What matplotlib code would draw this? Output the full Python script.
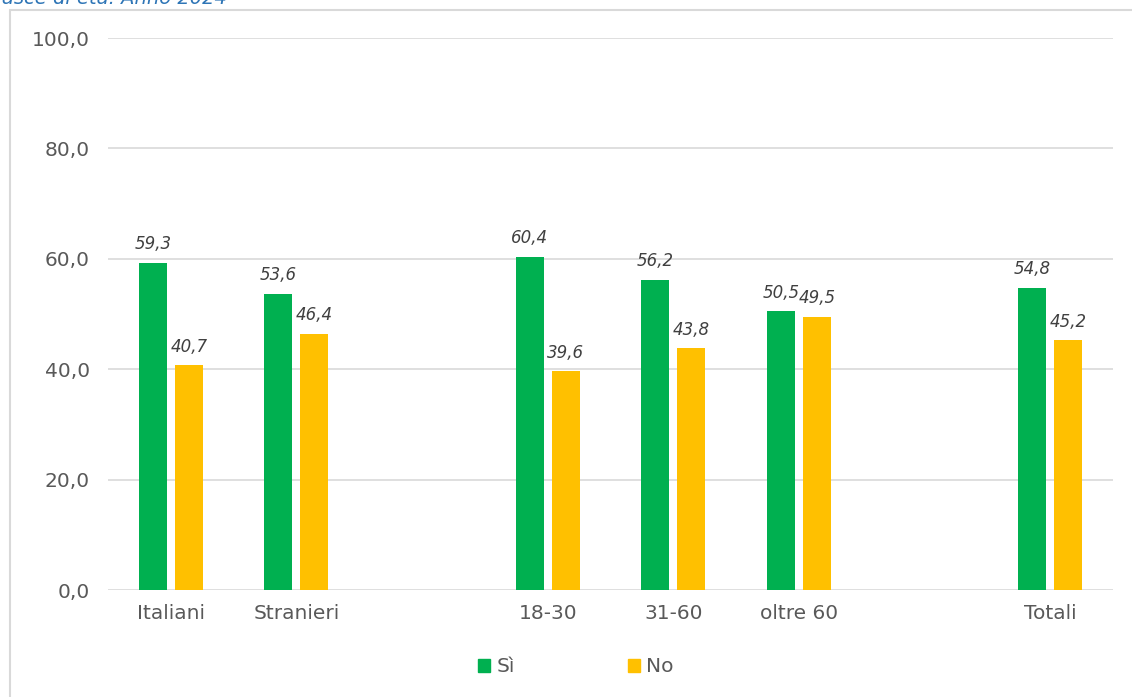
import matplotlib.pyplot as plt
import numpy as np
from matplotlib.patches import Rectangle

plt.rcParams["font.family"] = ["DejaVu Sans"]

categories = ["Italiani", "Stranieri", "", "18-30", "31-60", "oltre 60", "", "Totali"]
si_values = [59.3, 53.6, None, 60.4, 56.2, 50.5, None, 54.8]
no_values = [40.7, 46.4, None, 39.6, 43.8, 49.5, None, 45.2]
yticks = [0, 20, 40, 60, 80, 100]

GREEN = "#00B050"
YELLOW = "#FFC000"
TEXT = "#595959"


def fmt(v, dec=1):
    return f"{v:.{dec}f}".replace(".", ",")


fig = plt.figure(figsize=(11.32, 6.97), dpi=100)
fig.patch.set_facecolor("white")

# chart frame
fig.patches.append(Rectangle((10 / 1132, -0.01), 1.2, 1 - 10 / 697 + 0.01,
                             transform=fig.transFigure, fill=False,
                             edgecolor="#d9d9d9", linewidth=1.5))

# title (cut off at the top of the image)
fig.text(-0.004, 1 - 4 / 697, "fasce di età. Anno 2024", color="#2E75B6",
         fontsize=14, style="italic", ha="left", va="baseline")

ax = fig.add_axes([108 / 1132, 1 - 590 / 697, (1113 - 108) / 1132, (590 - 38) / 697])

x = np.arange(len(categories))
w = 0.223
off = 0.143
for i in range(len(categories)):
    if si_values[i] is None:
        continue
    ax.bar(x[i] - off, si_values[i], w, color=GREEN, zorder=3)
    ax.bar(x[i] + off, no_values[i], w, color=YELLOW, zorder=3)
    ax.annotate(fmt(si_values[i]), (x[i] - off, si_values[i]), xytext=(0, 7),
                textcoords="offset points", ha="center", va="bottom",
                fontsize=12, style="italic", color="#404040")
    ax.annotate(fmt(no_values[i]), (x[i] + off, no_values[i]), xytext=(0, 7),
                textcoords="offset points", ha="center", va="bottom",
                fontsize=12, style="italic", color="#404040")

ax.set_xlim(-0.5, len(categories) - 0.5)
ax.set_ylim(0, 100)
ax.set_yticks(yticks)
ax.set_yticklabels([fmt(t) for t in yticks])
ax.set_xticks(x)
ax.set_xticklabels(categories)
ax.tick_params(axis="both", length=0, labelsize=14.5, colors=TEXT)
ax.tick_params(axis="y", pad=13)
ax.tick_params(axis="x", pad=10)
ax.grid(axis="y", color="#d9d9d9", linewidth=1.2, zorder=0)
for s in ax.spines.values():
    s.set_visible(False)

h1 = Rectangle((0, 0), 1, 1, color=GREEN)
h2 = Rectangle((0, 0), 1, 1, color=YELLOW)
leg = fig.legend([h1, h2], ["Sì", "No"], loc="center", bbox_to_anchor=(576 / 1132, 1 - 667 / 697),
                 ncol=2, frameon=False, fontsize=14.5, handlelength=0.6, handleheight=0.6,
                 handletextpad=0.3, columnspacing=5.65)
for t in leg.get_texts():
    t.set_color(TEXT)

fig.savefig("out.png", dpi=100)
